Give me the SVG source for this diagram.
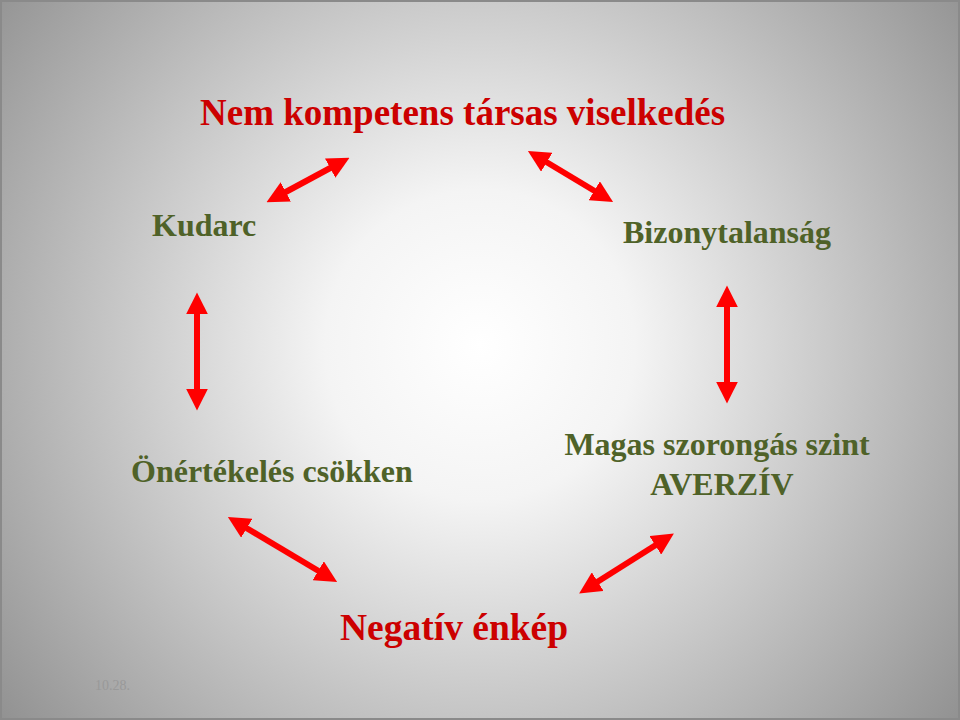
<svg xmlns="http://www.w3.org/2000/svg" width="960" height="720" viewBox="0 0 960 720">
<defs>
<radialGradient id="bg" cx="480" cy="345" r="620" gradientUnits="userSpaceOnUse">
<stop offset="0" stop-color="#ffffff"/>
<stop offset="0.25" stop-color="#f4f4f4"/>
<stop offset="1" stop-color="#8f8f8f"/>
</radialGradient>
<marker id="ah" viewBox="0 0 20 20" refX="4" refY="10" markerWidth="22" markerHeight="22" markerUnits="userSpaceOnUse" orient="auto-start-reverse">
<path d="M0,0 L20,10 L0,20 Z" fill="#ff0000"/>
</marker>
<style>
.t{font-family:"Liberation Serif","Times New Roman",serif;font-weight:bold}
.g{fill:#4f6228;font-size:32px}
.r{fill:#cc0000}
.c{stroke:#ff0000;stroke-width:6;fill:none;marker-start:url(#ah);marker-end:url(#ah)}
</style>
</defs>
<rect x="0" y="0" width="960" height="720" fill="url(#bg)"/>
<rect x="1" y="1" width="958" height="718" fill="none" stroke="#8a8a8a" stroke-width="2"/>
<g id="title"><text class="t r" x="200" y="125" font-size="37">Nem kompetens társas viselkedés</text></g>
<g id="kudarc"><text class="t g" x="152" y="236">Kudarc</text></g>
<g id="bizonytalansag"><text class="t g" x="623" y="243">Bizonytalanság</text></g>
<g id="onertekeles"><text class="t g" x="131" y="482">Önértékelés csökken</text></g>
<g id="szorongas"><text class="t g" x="717" y="455" text-anchor="middle">Magas szorongás szint</text><text class="t g" x="722" y="495" text-anchor="middle">AVERZÍV</text></g>
<g id="negativ"><text class="t r" x="340" y="640" font-size="37.5">Negatív énkép</text></g>
<text x="95" y="690" font-family="Liberation Serif, serif" font-size="14" fill="#999999">10.28.</text>
<g id="connectors">
<line class="c" x1="282" y1="194" x2="334" y2="166"/>
<line class="c" x1="543" y1="160" x2="598" y2="193"/>
<line class="c" x1="197" y1="310" x2="197" y2="393"/>
<line class="c" x1="727" y1="303" x2="727" y2="386"/>
<line class="c" x1="243" y1="526" x2="322" y2="573"/>
<line class="c" x1="594" y1="584" x2="659" y2="543"/>
</g>
</svg>
